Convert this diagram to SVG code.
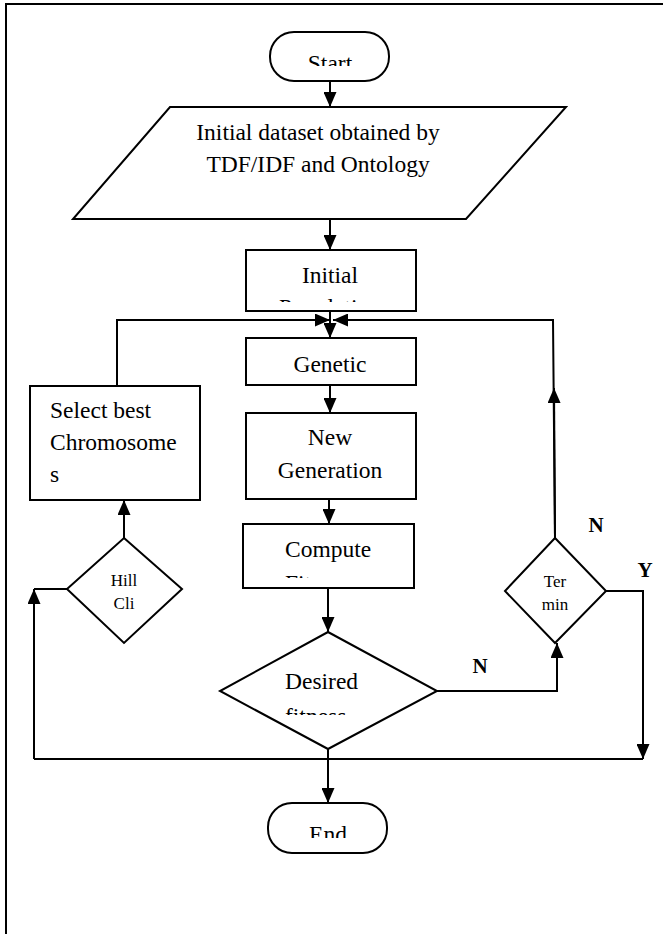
<svg xmlns="http://www.w3.org/2000/svg" width="663" height="934" viewBox="0 0 663 934">
<style>
.s{fill:#fff;stroke:#000;stroke-width:2}
.c{fill:none;stroke:#000;stroke-width:2}
text{font-family:'Liberation Serif','DejaVu Serif',serif;font-size:23.5px;fill:#000}
.m{text-anchor:middle}
text.sm{font-size:17px}
text.lb{font-size:21px;font-weight:bold;text-anchor:middle}
</style>
<defs>
<marker id="a" viewBox="0 0 15 13" refX="15" refY="6.5" markerWidth="15" markerHeight="13" markerUnits="userSpaceOnUse" orient="auto">
<path d="M0,0 L15,6.5 L0,13 Z" fill="#000"/>
</marker>
<clipPath id="cStart"><rect x="260" y="30" width="140" height="36"/></clipPath>
<clipPath id="cInit"><rect x="240" y="250" width="180" height="52"/></clipPath>
<clipPath id="cComp"><rect x="240" y="524" width="180" height="54"/></clipPath>
<clipPath id="cDes"><rect x="220" y="632" width="220" height="83"/></clipPath>
<clipPath id="cEnd"><rect x="260" y="803" width="140" height="35"/></clipPath>
</defs>
<g id="frame">
<path class="c" d="M6,934 V4 H663" stroke-width="2.5"/>
</g>
<g id="connectors">
<line class="c" x1="330" y1="81" x2="330" y2="107" marker-end="url(#a)"/>
<line class="c" x1="330" y1="219" x2="330" y2="250" marker-end="url(#a)"/>
<line class="c" x1="330" y1="311" x2="330" y2="338" marker-end="url(#a)"/>
<polyline class="c" points="117,386 117,320 330,320" marker-end="url(#a)"/>
<polyline class="c" points="555,538 553,320 333,320" marker-end="url(#a)"/>
<line class="c" x1="555" y1="538" x2="554" y2="388" marker-end="url(#a)"/>
<line class="c" x1="330" y1="385" x2="330" y2="413" marker-end="url(#a)"/>
<line class="c" x1="329" y1="499" x2="329" y2="524" marker-end="url(#a)"/>
<line class="c" x1="328" y1="588" x2="328" y2="632" marker-end="url(#a)"/>
<line class="c" x1="328" y1="749" x2="328" y2="803" marker-end="url(#a)"/>
<polyline class="c" points="437,691 557,691 557,643" marker-end="url(#a)"/>
<polyline class="c" points="606,591 643,591 643,759" marker-end="url(#a)"/>
<line class="c" x1="34" y1="759" x2="643" y2="759"/>
<polyline class="c" points="67,589 34,589"/>
<line class="c" x1="34" y1="759" x2="34" y2="589" marker-end="url(#a)"/>
<line class="c" x1="124" y1="538" x2="124" y2="500" marker-end="url(#a)"/>
</g>
<g id="start">
<rect class="s" x="270" y="32" width="119" height="49" rx="24"/>
<text class="m" x="330" y="71" clip-path="url(#cStart)">Start</text>
</g>
<g id="dataset">
<polygon class="s" points="170,107 566,107 466,219 73,219"/>
<text class="m" x="318" y="140">Initial dataset obtained by</text>
<text class="m" x="318" y="172">TDF/IDF and Ontology</text>
</g>
<g id="initpop">
<rect class="s" x="246" y="250" width="170" height="61"/>
<g clip-path="url(#cInit)">
<text class="m" x="330" y="283">Initial</text>
<text class="m" x="330" y="315">Population</text>
</g>
</g>
<g id="genetic">
<rect class="s" x="246" y="338" width="170" height="47"/>
<text class="m" x="330" y="372">Genetic</text>
</g>
<g id="newgen">
<rect class="s" x="246" y="413" width="170" height="86"/>
<text class="m" x="330" y="445">New</text>
<text class="m" x="330" y="478">Generation</text>
</g>
<g id="compute">
<rect class="s" x="243" y="524" width="171" height="64"/>
<g clip-path="url(#cComp)">
<text x="285" y="557">Compute</text>
<text x="285" y="591">Fitness</text>
</g>
</g>
<g id="desired">
<polygon class="s" points="328,632 437,691 328,749 220,691"/>
<g clip-path="url(#cDes)">
<text x="285" y="689">Desired</text>
<text x="285" y="724">fitness</text>
</g>
</g>
<g id="end">
<rect class="s" x="268" y="803" width="119" height="50" rx="24"/>
<text class="m" x="328" y="842" clip-path="url(#cEnd)">End</text>
</g>
<g id="select">
<rect class="s" x="30" y="386" width="170" height="114"/>
<text x="50" y="418">Select best</text>
<text x="50" y="450">Chromosome</text>
<text x="50" y="482">s</text>
</g>
<g id="hill">
<polygon class="s" points="124,538 182,589 124,643 67,589"/>
<text class="m sm" x="124" y="586">Hill</text>
<text class="m sm" x="124" y="609">Cli</text>
</g>
<g id="termin">
<polygon class="s" points="555,538 606,591 555,643 505,591"/>
<text class="m sm" x="555" y="587">Ter</text>
<text class="m sm" x="555" y="610">min</text>
</g>
<g id="labels">
<text class="lb" x="480" y="673">N</text>
<text class="lb" x="596" y="532">N</text>
<text class="lb" x="645" y="577">Y</text>
</g>
</svg>
